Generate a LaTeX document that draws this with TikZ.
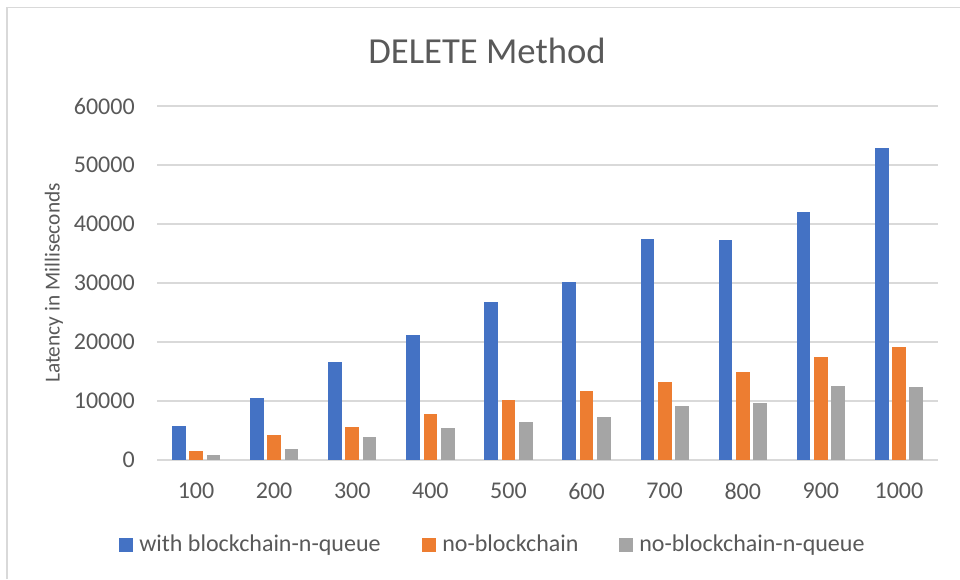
\documentclass[tikz,border=0pt]{standalone}
\usepackage{fontspec}
\setmainfont{Carlito}
\definecolor{serA}{HTML}{4472C4}
\definecolor{serB}{HTML}{ED7D31}
\definecolor{serC}{HTML}{A5A5A5}
\definecolor{txt}{HTML}{595959}
\definecolor{gridc}{HTML}{D9D9D9}
\tikzset{
  gridline/.style={draw=gridc, line width=1pt},
  framestyle/.style={draw=gridc, line width=1.1pt},
  ticklabel/.style={text=txt, inner sep=0pt, font=\fontsize{18}{20}\selectfont},
  legtext/.style={text=txt, inner sep=0pt, font=\fontsize{18}{20}\selectfont},
  titletext/.style={text=txt, inner sep=0pt, font=\fontsize{27.5}{30}\selectfont},
  axistitle/.style={text=txt, inner sep=0pt, font=\fontsize{16}{18}\selectfont, rotate=90},
}
\begin{document}
\begin{tikzpicture}[x=0.75pt, y=-0.75pt]
\useasboundingbox (0,0) rectangle (960,579);
\fill[white] (0,0) rectangle (960,579);
% chart frame
\draw[framestyle] (7,579) -- (7,7.5) -- (960,7.5);
% title
\node[titletext, anchor=base] (title) at (487,63) {DELETE Method};
% horizontal gridlines and value labels
\foreach \k/\val in {0/0,1/10000,2/20000,3/30000,4/40000,5/50000,6/60000} {
  \pgfmathsetmacro\yy{460-59*\k}
  \draw[gridline] (157,\yy) -- (938,\yy);
  \node[ticklabel, anchor=east] (yl\k) at (135,\yy) {\val};
}
% axis title
\node[axistitle] (ytitle) at (54,283) {Latency in Milliseconds};
% bars (values in thousands of ms)
\foreach \lab/\a/\b/\c [count=\i from 0] in {
  100/5.70/1.58/0.85,
  200/10.46/4.19/1.86,
  300/16.56/5.59/3.85,
  400/21.19/7.80/5.42,
  500/26.73/10.17/6.44,
  600/30.12/11.70/7.34,
  700/37.41/13.22/9.10,
  800/37.29/14.92/9.71,
  900/42.03/17.40/12.54,
  1000/52.83/19.10/12.43} {
  \pgfmathsetmacro\cx{157+78.1*(\i+0.5)}
  \fill[serA] (\cx-24.15,460) rectangle (\cx-10.45,460-\a*5.9);
  \fill[serB] (\cx-6.85,460) rectangle (\cx+6.85,460-\b*5.9);
  \fill[serC] (\cx+10.45,460) rectangle (\cx+24.15,460-\c*5.9);
  \node[ticklabel] (xl\i) at (\cx,491) {\lab};
}
% legend
\fill[serA] (119,538) rectangle (132.7,551.7);
\node[legtext, anchor=base west] (legA) at (139,551.7) {with blockchain-n-queue};
\fill[serB] (422,538) rectangle (435.7,551.7);
\node[legtext, anchor=base west] (legB) at (442,551.7) {no-blockchain};
\fill[serC] (619.3,538) rectangle (633,551.7);
\node[legtext, anchor=base west] (legC) at (639,551.7) {no-blockchain-n-queue};
\end{tikzpicture}
\end{document}
